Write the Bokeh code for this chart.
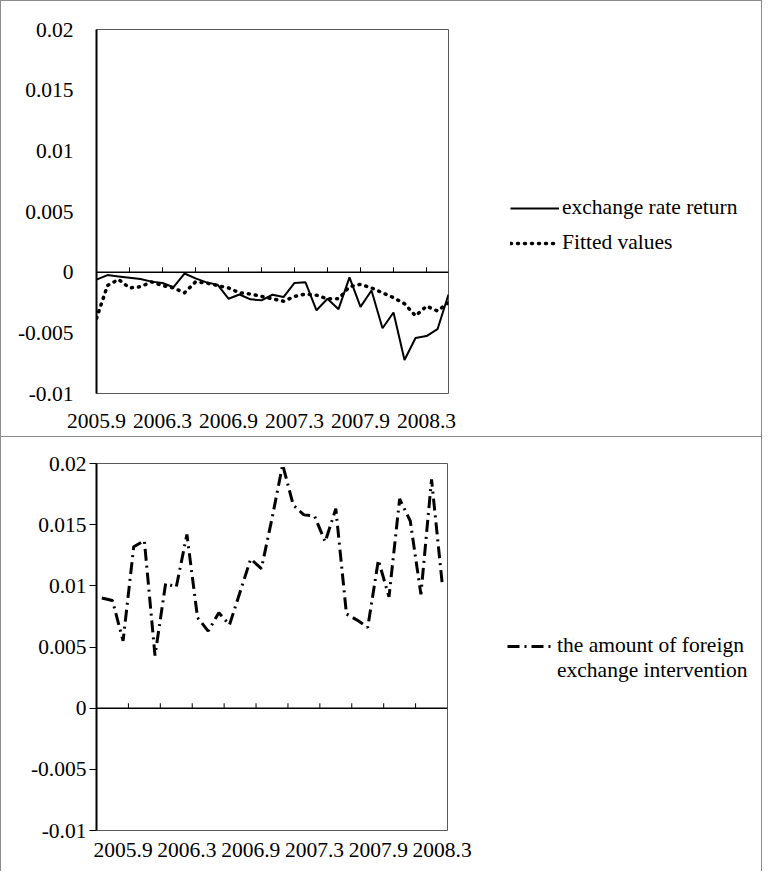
from bokeh.plotting import figure
from bokeh.layouts import column, row
from bokeh.models import FixedTicker, Span, Legend, LegendItem, Range1d
from bokeh.embed import file_html
from bokeh.resources import INLINE

# ---------------- data ----------------
month_index = list(range(33))  # 2005.9 ... 2008.5, monthly
exchange_rate_return = [-0.00062, -0.00024, -0.00035, -0.00046, -0.00057, -0.00078, -0.00089,
                        -0.00124, -0.00011, -0.00051, -0.00084, -0.00103, -0.00219, -0.00184,
                        -0.00224, -0.00232, -0.00186, -0.00205, -0.00089, -0.00084, -0.00314,
                        -0.00219, -0.00305, -0.00043, -0.00286, -0.00151, -0.00462, -0.00332,
                        -0.00724, -0.00543, -0.00527, -0.00470, -0.00184]
fitted_values = [-0.0038, -0.0011, -0.0006, -0.0013, -0.0012, -0.0008, -0.0011, -0.0013,
                 -0.0017, -0.0008, -0.0009, -0.0011, -0.0013, -0.0017, -0.0018, -0.0020,
                 -0.0022, -0.0024, -0.0020, -0.0018, -0.0019, -0.0022, -0.0022, -0.0012,
                 -0.0010, -0.0013, -0.0017, -0.0021, -0.0026, -0.0036, -0.0028, -0.0032,
                 -0.0025]
intervention = [0.0090, 0.0088, 0.0055, 0.0132, 0.0137, 0.0043, 0.0102, 0.0099, 0.0142,
                0.0074, 0.0063, 0.0078, 0.0068, 0.0095, 0.0122, 0.0114, 0.0155, 0.0199,
                0.0166, 0.0158, 0.0157, 0.0136, 0.0163, 0.0077, 0.0072, 0.0066, 0.0121,
                0.0091, 0.0171, 0.0153, 0.0093, 0.0187, 0.0102]

x_tick_labels = ["2005.9", "2006.3", "2006.9", "2007.3", "2007.9", "2008.3"]
top_label_index = [0, 6, 12, 18, 24, 30]
bottom_label_index = [2, 8, 14, 20, 26, 32]
zero_line_ticks = [3, 6, 9, 12, 15, 18, 21, 24, 27, 30]
y_ticks = [-0.01, -0.005, 0, 0.005, 0.01, 0.015, 0.02]
y_tick_labels = ["-0.01", "-0.005", "0", "0.005", "0.01", "0.015", "0.02"]

FONT = "Liberation Serif"
FSIZE = "21.5px"
FRAME_STYLE = {"border-left": "1px solid #8c8c8c", "border-right": "1px solid #8c8c8c",
               "border-top": "1px solid #8c8c8c"}
MAIN_W = 480
LEG_W = 280


def base_fig(height, top, bottom, left, right):
    p = figure(width=MAIN_W, height=height, output_backend="svg", toolbar_location=None,
               min_border_top=top, min_border_bottom=bottom, min_border_left=left,
               min_border_right=right, y_range=Range1d(-0.01, 0.02))
    p.xgrid.visible = False
    p.ygrid.visible = False
    p.outline_line_color = "#595959"
    p.outline_line_width = 1
    p.background_fill_color = "white"
    p.border_fill_color = "white"
    p.yaxis.ticker = FixedTicker(ticks=y_ticks)
    p.yaxis.major_label_overrides = {t: l for t, l in zip(y_ticks, y_tick_labels)}
    p.yaxis.axis_line_color = "black"
    p.yaxis.axis_line_width = 2
    p.yaxis.minor_tick_line_color = None
    p.yaxis.major_label_text_font = FONT
    p.yaxis.major_label_text_font_size = FSIZE
    p.yaxis.major_label_text_color = "black"
    p.xaxis.axis_line_color = None
    p.xaxis.major_tick_line_color = None
    p.xaxis.minor_tick_line_color = None
    p.xaxis.major_label_text_font = FONT
    p.xaxis.major_label_text_font_size = FSIZE
    p.xaxis.major_label_text_color = "black"
    p.add_layout(Span(location=0, dimension="width", line_color="black", line_width=1.5))
    return p


def legend_fig(height):
    # side area that holds the legend; its sample lines lie outside its x range
    f = figure(width=LEG_W, height=height, output_backend="svg", toolbar_location=None,
               x_axis_type=None, y_axis_type=None, min_border=0,
               x_range=Range1d(-20, -19), y_range=Range1d(-0.01, 0.02))
    f.xgrid.visible = False
    f.ygrid.visible = False
    f.outline_line_color = None
    f.border_fill_color = "white"
    return f


def make_legend(items, vx, vy, glyph_w, spacing):
    return Legend(items=items, location=(vx, vy), padding=0, margin=0, spacing=spacing,
                  glyph_width=glyph_w, glyph_height=24, label_height=24, label_standoff=3,
                  label_text_font=FONT, label_text_font_size=FSIZE, label_text_color="black",
                  label_text_baseline="middle",
                  border_line_color=None, background_fill_alpha=0)


# ---------------- top panel ----------------
H1 = 435
p1 = base_fig(H1, 28, 43, 95, MAIN_W - 95 - 352)
p1.x_range = Range1d(0, 32)
p1.xaxis.ticker = FixedTicker(ticks=top_label_index)
p1.xaxis.major_label_overrides = {t: l for t, l in zip(top_label_index, x_tick_labels)}
p1.xaxis.major_label_standoff = 14
p1.yaxis.major_tick_line_color = None
p1.yaxis.major_label_standoff = 17
p1.segment(x0=zero_line_ticks, y0=[0] * len(zero_line_ticks), x1=zero_line_ticks,
           y1=[0.0004] * len(zero_line_ticks), line_color="black", line_width=1)
p1.line(month_index, exchange_rate_return, line_color="black", line_width=2)
p1.line(month_index, fitted_values, line_color="black", line_width=3.5,
        line_dash="1 6", line_cap="round")

l1 = legend_fig(H1)
k_ret = l1.line(month_index, exchange_rate_return, line_color="black", line_width=2)
k_fit = l1.line(month_index, fitted_values, line_color="black", line_width=3.5,
                line_dash="1 6", line_cap="round")
l1.add_layout(make_legend([LegendItem(label="exchange rate return", renderers=[k_ret]),
                           LegendItem(label="Fitted values", renderers=[k_fit])],
                          29, 138, 49, 10))

# ---------------- bottom panel ----------------
H2 = 434
p2 = base_fig(H2, 26, 41, 95, MAIN_W - 95 - 351)
p2.x_range = Range1d(0, 33)
bottom_x = [i + 0.5 for i in month_index]
bottom_label_x = [i + 0.5 for i in bottom_label_index]
p2.xaxis.ticker = FixedTicker(ticks=bottom_label_x)
p2.xaxis.major_label_overrides = {t: l for t, l in zip(bottom_label_x, x_tick_labels)}
p2.xaxis.major_label_standoff = 6
p2.yaxis.major_tick_line_color = "black"
p2.yaxis.major_tick_out = 7
p2.yaxis.major_tick_in = 0
p2.yaxis.major_label_standoff = 3
p2.segment(x0=zero_line_ticks, y0=[0] * len(zero_line_ticks), x1=zero_line_ticks,
           y1=[0.0004] * len(zero_line_ticks), line_color="black", line_width=1)
p2.line(bottom_x, intervention, line_color="black", line_width=3, line_dash="12 5 2 5")

l2 = legend_fig(H2)
k_int = l2.line(bottom_x, intervention, line_color="black", line_width=3,
                line_dash="12 5 2 5")
k_blank = l2.line(bottom_x, intervention, line_alpha=0)
l2.add_layout(make_legend([LegendItem(label="the amount of foreign", renderers=[k_int]),
                           LegendItem(label="exchange intervention", renderers=[k_blank])],
                          26, 147, 47, 0))

row1 = row(p1, l1, spacing=0, styles=FRAME_STYLE)
row2 = row(p2, l2, spacing=0, styles=FRAME_STYLE)
layout = column(row1, row2, spacing=0)
open("out.html", "w").write(file_html(layout, INLINE))
